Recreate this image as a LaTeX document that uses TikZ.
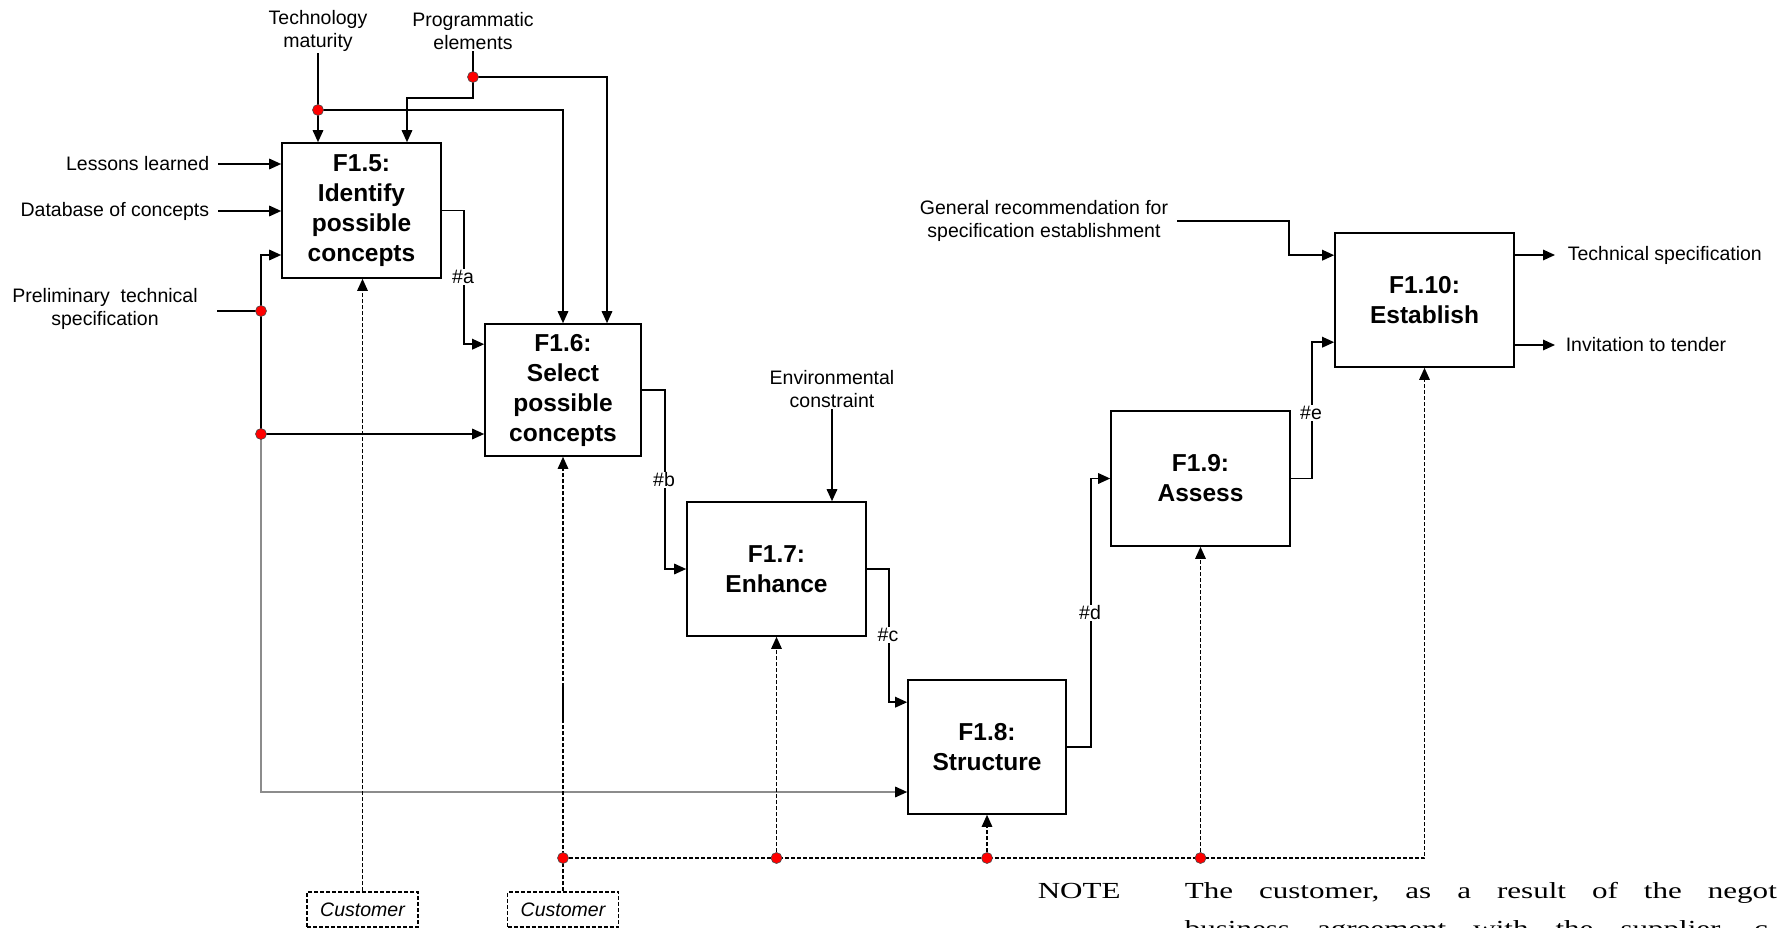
\documentclass[tikz,border=0pt]{standalone}
\usepackage{fontspec}
\setmainfont{Liberation Sans}
\newfontfamily\notefont[FakeStretch=1.35]{Liberation Serif}
\usetikzlibrary{arrows.meta}

\begin{document}
\begin{tikzpicture}[x=1pt,y=-1pt,
  line width=1.6pt,
  arr/.style={-{Triangle[length=12pt,width=10.5pt,color=black]}},
  func/.style={draw, line width=1.6pt, inner sep=0pt, align=center,
    font=\fontsize{24.5}{30}\selectfont\bfseries},
  lbl/.style={inner sep=1pt, align=center, font=\fontsize{19.5}{23}\selectfont},
  tag/.style={fill=white, inner sep=1pt, font=\fontsize{19.5}{23}\selectfont},
  ctrl/.style={dash pattern=on 4pt off 2pt, line width=1.4pt},
  dot/.style={circle, fill=red, draw=black!70, line width=0.6pt,
    minimum size=11pt, inner sep=0pt},
  cust/.style={draw, dash pattern=on 4pt off 2pt, line width=1.4pt,
    minimum width=111pt, minimum height=35pt, inner sep=0pt,
    font=\fontsize{19.5}{23}\selectfont\itshape},
  grayline/.style={draw=black!45, line width=1.6pt},
  notetext/.style={anchor=base west, inner sep=0pt,
    font=\notefont\fontsize{23}{32}\selectfont}
]
\useasboundingbox (0,0) rectangle (1777,928);
\clip (0,0) rectangle (1777,928);

% ---- activity boxes ----
\node[func, minimum width=159pt, minimum height=135pt] (f15) at (361.5,210.5)
  {F1.5:\\Identify\\possible\\concepts};
\node[func, minimum width=156pt, minimum height=132pt] (f16) at (563,390)
  {F1.6:\\Select\\possible\\concepts};
\node[func, minimum width=179pt, minimum height=134pt] (f17) at (776.5,569)
  {F1.7:\\Enhance};
\node[func, minimum width=158pt, minimum height=134pt] (f18) at (987,747)
  {F1.8:\\Structure};
\node[func, minimum width=179pt, minimum height=135pt] (f19) at (1200.5,478.5)
  {F1.9:\\Assess};
\node[func, minimum width=179pt, minimum height=134pt] (f110) at (1424.5,300)
  {F1.10:\\Establish};

% ---- external labels ----
\node[lbl] (tech) at (318,31) {Technology\\maturity};
\node[lbl] (prog) at (473,31) {Programmatic\\elements};
\node[lbl, anchor=east] (lessons) at (211,164) {Lessons learned};
\node[lbl, anchor=east] (db) at (211,211) {Database of concepts};
\node[lbl] (prelim) at (105,309) {Preliminary\ \ technical\\specification};
\node[lbl] (env) at (832,389) {Environmental\\constraint};
\node[lbl] (gen) at (1044,221) {General recommendation for\\specification establishment};
\node[lbl, anchor=west] (tspec) at (1566,255) {Technical specification};
\node[lbl, anchor=west] (itt) at (1564,345) {Invitation to tender};

\node[cust] (cust1) at (362.5,909.5) {Customer};
\node[cust] (cust2) at (563,909.5) {Customer};

% ---- branch points ----
\coordinate (td) at (318,110);
\coordinate (pd) at (473,77);
\coordinate (pin) at (217,311);
\coordinate (pa) at (261,311);
\coordinate (pb) at (261,434);
\coordinate (gin) at (1177,221);
\coordinate (d1) at (563,858);
\coordinate (d2) at (f17.south |- d1);
\coordinate (d3) at (f18.south |- d1);
\coordinate (d4) at (f19.south |- d1);

% ---- controls from above ----
\draw (tech.south) -- (td);
\draw[arr] (td) -- (td |- f15.north);
\draw[arr] (td) -| (f16.north);
\draw (prog.south) -- (pd);
\draw[arr] (pd) -- ++(0,21) -| ([xshift=45.5pt]f15.north);
\draw[arr] (pd) -| ([xshift=44pt]f16.north);
\draw[arr] (env.south) -- (env.south |- f17.north);
\draw[arr] (gin) -- ++(112,0) |- ([yshift=-23pt]f110.north west);

% ---- inputs ----
\draw[arr] ([xshift=7pt]lessons.east) -- (lessons.east -| f15.west);
\draw[arr] ([xshift=7pt]db.east) -- (db.east -| f15.west);
\draw (pin) -- (pa);
\draw[arr] (pa) |- ([yshift=-44.5pt]f15.west);
\draw (pa) -- (pb);
\draw[arr] (pb) -- (pb -| f16.west);
\draw[grayline, arr] (pb) |- ([yshift=-45pt]f18.west);

% ---- flow between activities ----
\draw[arr] (f15.east) -- ++(22,0) |- ([yshift=-21pt]f16.north west);
\node[tag] (ta) at (463,277) {\#a};
\draw[arr] (f16.east) -- ++(23,0) |- (f17.west);
\node[tag] (tb) at (664,480) {\#b};
\draw[arr] (f17.east) -- ++(22,0) |- ([yshift=-23pt]f18.north west);
\node[tag] (tc) at (888,635) {\#c};
\draw[arr] (f18.east) -- ++(24,0) |- (f19.west);
\node[tag] (tdd) at (1090,613) {\#d};
\draw[arr] (f19.east) -- ++(21,0) |- ([yshift=-110pt]f110.north west);
\node[tag] (te) at (1311,413) {\#e};

% ---- outputs ----
\draw[arr] ([yshift=45pt]f110.east) -- ([xshift=-11pt]tspec.west);
\draw[arr] ([yshift=-45pt]f110.east) -- ([xshift=-9pt]itt.west);

% ---- mechanisms (customer) ----
\draw[ctrl, arr] (cust1.north) -- (cust1.north |- f15.south);
\draw[ctrl, arr] (cust2.north) -- (f16.south);
\draw (563,683) -- (563,723);
\draw[ctrl, arr] (d1) -| (f110.south);
\draw[ctrl, arr] (d2) -- (f17.south);
\draw[ctrl, arr] (d3) -- (f18.south);
\draw[ctrl, arr] (d4) -- (f19.south);

% ---- junction dots ----
\foreach \p in {td,pd,pa,pb,d1,d2,d3,d4}
  \node[dot] at (\p) {};

% ---- note ----
\node[notetext] (note) at (1037,898) {NOTE};
\node[notetext] (nl1) at (1184,898)
  {\frenchspacing\spaceskip=26pt The customer, as a result of the negotiation};
\node[notetext] (nl2) at (1184,936)
  {\frenchspacing\spaceskip=27pt business agreement with the supplier, c};
\end{tikzpicture}
\end{document}
